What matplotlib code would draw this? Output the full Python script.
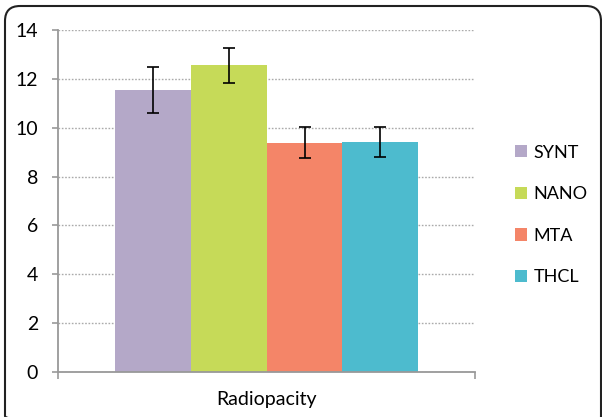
import numpy as np
import matplotlib.pyplot as plt
from matplotlib.patches import FancyBboxPatch, Patch

plt.rcParams['font.family'] = ['Lato', 'DejaVu Sans']

# data
groups = ["SYNT", "NANO", "MTA", "THCL"]
means = [11.55, 12.55, 9.38, 9.43]
errs = [0.95, 0.73, 0.63, 0.61]
colors = ["#B4A8C8", "#C6DA58", "#F48568", "#4DBBCE"]
yticks = [0, 2, 4, 6, 8, 10, 12, 14]
category = "Radiopacity"

fig = plt.figure(figsize=(6.02, 4.17), dpi=100)

# rounded outer frame, drawn in pixel units
bg = fig.add_axes([0, 0, 1, 1])
bg.set_xlim(0, 602)
bg.set_ylim(417, 0)
bg.axis('off')
bg.add_patch(FancyBboxPatch((5, 6), 596, 425, boxstyle="round,pad=0,rounding_size=15",
                            fill=False, edgecolor='#222222', linewidth=1.5))

ax = fig.add_axes([0.0963, 0.108, 0.693, 0.820])

w = 0.182
x = (np.arange(len(groups)) - 1.5) * w
bars = ax.bar(x, means, width=w, color=colors, zorder=2)
ax.errorbar(x, means, yerr=errs, fmt='none', ecolor='black',
            elinewidth=1.2, capsize=4.5, capthick=1.2, zorder=3)

ax.set_xlim(-0.5, 0.5)
ax.set_ylim(0, 14)
ax.set_yticks(yticks)
ax.set_yticklabels([str(v) for v in yticks], fontsize=14)
ax.set_xticks([-0.5, 0.5])
ax.set_xticklabels(["", ""])
ax.tick_params(axis='y', length=4.3, width=1.2, color='#999999', pad=10)
ax.tick_params(axis='x', length=5, width=1.2, color='#999999')
ax.yaxis.grid(True, linestyle=(0, (1.2, 1.2)), color='#AAAAAA', linewidth=1, zorder=0)
ax.set_axisbelow(True)
for s in ['top', 'right']:
    ax.spines[s].set_visible(False)
for s in ['left', 'bottom']:
    ax.spines[s].set_color('#999999')
    ax.spines[s].set_linewidth(1.3)

fig.text(267 / 602, 1 - 400 / 417, category, ha='center', va='center', fontsize=14)

handles = [Patch(facecolor=c, edgecolor='none') for c in colors]
fig.legend(handles, groups, loc='center left', bbox_to_anchor=(499 / 602, 1 - 215 / 417),
           frameon=False, fontsize=13, handlelength=0.65, handleheight=0.65,
           handletextpad=0.35, labelspacing=1.42)

fig.savefig("out.png", dpi=100)
